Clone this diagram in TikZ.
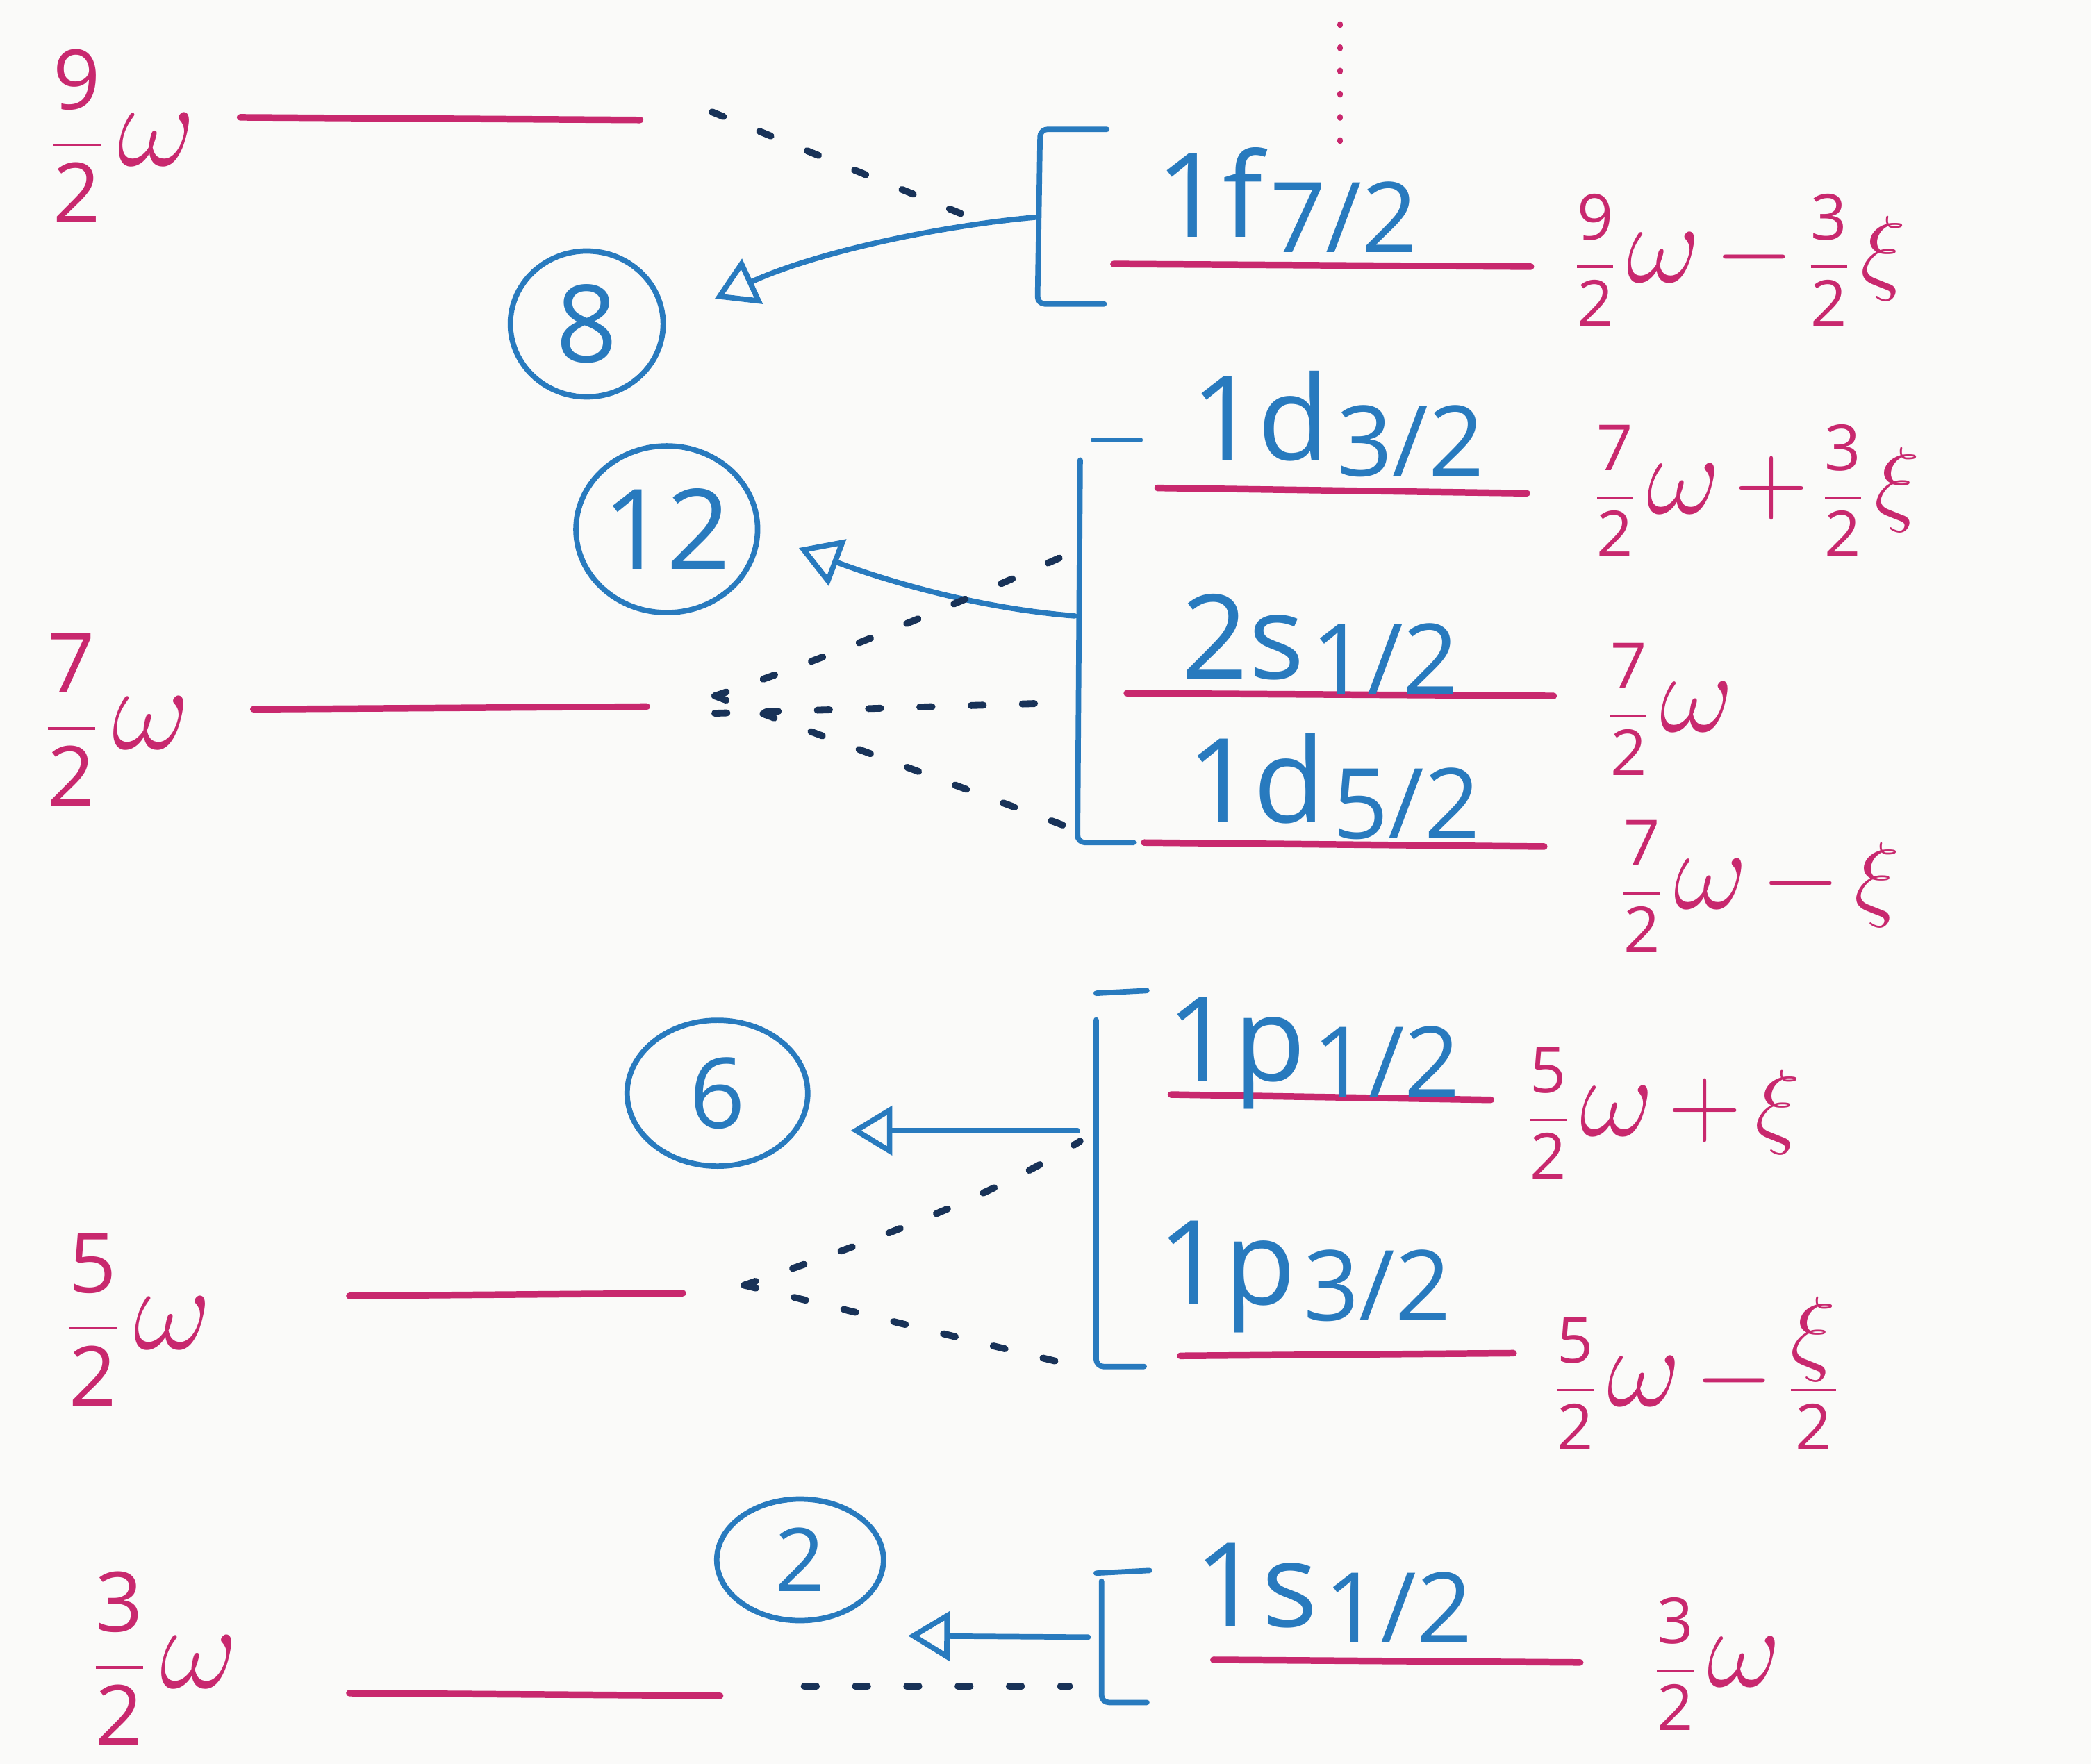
\RequirePackage{fix-cm}
\documentclass[tikz,border=0pt]{standalone}
\usepackage{amsmath}
\usepackage{fontspec}
\setmainfont{Open Sans}
\usetikzlibrary{arrows.meta,shapes.geometric}
\definecolor{lvl}{RGB}{200,40,110}
\definecolor{pen}{RGB}{40,122,190}
\definecolor{ink}{RGB}{24,50,88}
\definecolor{paper}{RGB}{250,250,249}
% large omega / xi / signs next to the fractions
\newcommand\om{\mbox{\scalebox{1.45}{$\omega$}}}
\newcommand\omr{\mbox{\scalebox{1.8}{$\omega$}}}
\newcommand\xir{\mbox{\scalebox{1.5}{$\xi$}}}
\newcommand\mi{\mathbin{\mbox{\scalebox{1.6}{$-$}}}}
\newcommand\pl{\mathbin{\mbox{\scalebox{1.6}{$+$}}}}
% stacked fraction with upright digits
\newcommand\frc[2]{\dfrac{\text{#1}}{\text{#2}}}
% orbital name: number, letter, j value
\newcommand\orb[3]{#1#2\kern0.06em\raisebox{-0.25ex}{\fontsize{40}{40}\selectfont #3}}
\begin{document}
\begin{tikzpicture}[x=0.0192cm,y=-0.0192cm,
  lvline/.style={draw=lvl,line width=2.7pt,line cap=round},
  bkt/.style={draw=pen,line width=2.2pt,line cap=round,line join=round,rounded corners=3pt},
  arr/.style={draw=pen,line width=2.2pt,line cap=round,
    -{Triangle[open,length=17pt,width=20pt,line width=2.2pt]}},
  fan/.style={draw=ink,line width=2.8pt,line cap=round,dash pattern=on 5pt off 16pt},
  energy/.style={text=lvl,font=\fontsize{34}{40}\selectfont,inner sep=0pt},
  split/.style={text=lvl,font=\fontsize{26}{30}\selectfont,inner sep=0pt,anchor=west},
  orbit/.style={text=pen,font=\fontsize{48}{54}\selectfont,inner sep=0pt},
  shell/.style={draw=pen,ellipse,line width=2.2pt,text=pen,inner sep=0pt},
]
\path[use as bounding box,fill=paper] (0,0) rectangle (1568,1323);

% ---------- oscillator shells (left) ----------
\node[energy] (e9) at (92,102)  {$\frc{9}{2}\,\om$};
\node[energy] (e7) at (88,540)  {$\frc{7}{2}\,\om$};
\node[energy] (e5) at (104,990) {$\frc{5}{2}\,\om$};
\node[energy] (e3) at (124,1244){$\frc{3}{2}\,\om$};

\coordinate (h9a) at (180,88);  \coordinate (h9b) at (480,90);
\coordinate (h7a) at (190,532); \coordinate (h7b) at (485,530);
\coordinate (h5a) at (262,972); \coordinate (h5b) at (512,970);
\coordinate (h3a) at (262,1270);\coordinate (h3b) at (540,1272);
\draw[lvline] (h9a) -- (h9b);
\draw[lvline] (h7a) -- (h7b);
\draw[lvline] (h5a) -- (h5b);
\draw[lvline] (h3a) -- (h3b);

% ---------- split levels (right) ----------
\coordinate (f7a) at (835,198);  \coordinate (f7b) at (1148,200);
\coordinate (d3a) at (868,366);  \coordinate (d3b) at (1145,370);
\coordinate (s2a) at (845,520);  \coordinate (s2b) at (1165,522);
\coordinate (d5a) at (858,632);  \coordinate (d5b) at (1158,635);
\coordinate (p1a) at (878,821);  \coordinate (p1b) at (1118,825);
\coordinate (p3a) at (885,1017); \coordinate (p3b) at (1135,1015);
\coordinate (s1a) at (910,1245); \coordinate (s1b) at (1185,1247);
\foreach \a/\b in {f7a/f7b,d3a/d3b,s2a/s2b,d5a/d5b,p1a/p1b,p3a/p3b,s1a/s1b}
  \draw[lvline] (\a) -- (\b);

\node[orbit] (of7) at (965,150)  {\orb{1}{f}{7/2}};
\node[orbit] (od3) at (1003,318) {\orb{1}{d}{3/2}};
\node[orbit] (os2) at (990,483)  {\orb{2}{s}{1/2}};
\node[orbit] (od5) at (1000,590) {\orb{1}{d}{5/2}};
\node[orbit] (op1) at (985,790)  {\orb{1}{p}{1/2}};
\node[orbit] (op3) at (978,958)  {\orb{1}{p}{3/2}};
\node[orbit] (os1) at (1000,1195){\orb{1}{s}{1/2}};

\node[split] (rf7) at (1180,195)  {$\frc{9}{2}\,\omr\mi\frc{3}{2}\,\xir$};
\node[split] (rd3) at (1195,368)  {$\frc{7}{2}\,\omr\pl\frc{3}{2}\,\xir$};
\node[split] (rs2) at (1205,532)  {$\frc{7}{2}\,\omr$};
\node[split] (rd5) at (1215,665)  {$\frc{7}{2}\,\omr\mi\xir$};
\node[split] (rp1) at (1145,835)  {$\frc{5}{2}\,\omr\pl\xir$};
\node[split] (rp3) at (1165,1030) {$\frc{5}{2}\,\omr\mi\dfrac{\xir}{\text{2}}$};
\node[split] (rs1) at (1240,1248) {$\frc{3}{2}\,\omr$};

% dotted mark above 1f7/2
\coordinate (vt) at (1005,18); \coordinate (vb) at (1005,108);
\draw[draw=lvl,line width=2.2pt,line cap=round,dash pattern=on 0.5pt off 9pt] (vt) -- (vb);

% ---------- brackets grouping each shell ----------
\draw[bkt] (830,97) -- (780,97) -- (778,228) -- (828,228);
\draw[bkt] (820,330) -- (855,330);
\draw[bkt] (810,345) -- (808,632) -- (850,632);
\draw[bkt] (822,745) -- (860,743);
\draw[bkt] (822,765) -- (822,1025) -- (858,1025);
\draw[bkt] (822,1180) -- (862,1178);
\draw[bkt] (826,1186) -- (826,1277) -- (860,1277);

% ---------- degeneracies ----------
\node[shell,minimum width=2.2cm,minimum height=2.1cm,font=\fontsize{44}{44}\selectfont] (c8) at (440,243) {8};
\node[shell,minimum width=2.6cm,minimum height=2.4cm,font=\fontsize{46}{46}\selectfont] (c12) at (500,397) {12};
\node[shell,minimum width=2.6cm,minimum height=2.1cm,font=\fontsize{40}{40}\selectfont] (c6) at (538,820) {6};
\node[shell,minimum width=2.4cm,minimum height=1.75cm,font=\fontsize{36}{36}\selectfont] (c2) at (600,1170) {2};

\coordinate (b8) at (776,163);   \coordinate (t8) at (536,224);
\coordinate (b12) at (806,462);  \coordinate (t12) at (599,411);
\coordinate (b6) at (808,848);   \coordinate (t6) at (638,848);
\coordinate (b2) at (816,1228);  \coordinate (t2) at (681,1227);
\draw[arr] (b8) .. controls (700,170) and (610,190) .. (t8);
\draw[arr] (b12) .. controls (730,456) and (660,434) .. (t12);
\draw[arr] (b6) -- (t6);
\draw[arr] (b2) -- (t2);

% ---------- splitting fans ----------
\coordinate (g9) at (534,84);   \coordinate (k9) at (725,162);
\draw[fan] (g9) -- (k9);
\coordinate (g7) at (536,522);
\coordinate (k7u) at (800,416); \coordinate (k7m) at (800,527); \coordinate (k7d) at (800,620);
\draw[fan] (g7) .. controls (620,494) and (720,452) .. (k7u);
\draw[fan] ([yshift=-0.25cm]g7) -- (k7m);
\draw[fan] (g7) -- (k7d);
\coordinate (g5) at (558,964);
\coordinate (k5u) at (810,856); \coordinate (k5d) at (800,1023);
\draw[fan] (g5) .. controls (640,936) and (740,900) .. (k5u);
\draw[fan] (g5) -- (k5d);
\coordinate (g3) at (603,1265);  \coordinate (k3) at (802,1265);
\draw[fan] (g3) -- (k3);
\end{tikzpicture}
\end{document}
